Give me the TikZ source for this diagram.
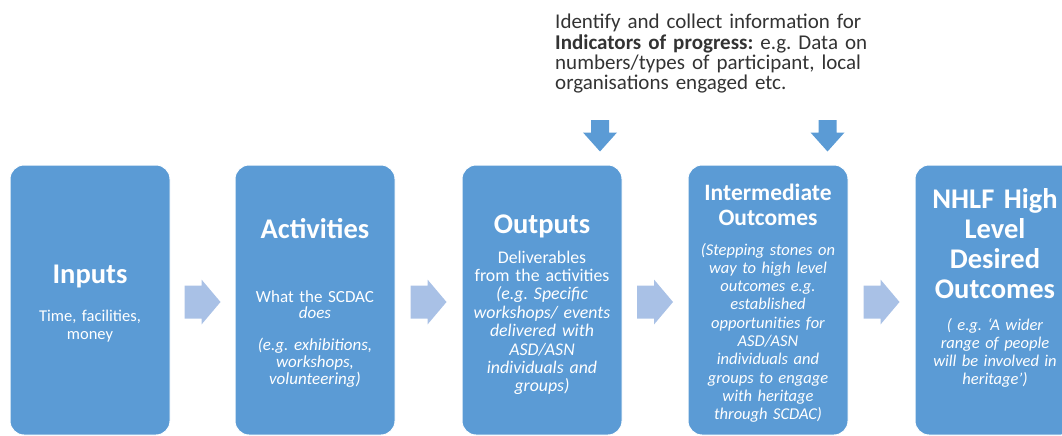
\documentclass[tikz,border=0pt]{standalone}
\usepackage{fontspec}
\setmainfont{Carlito}
\usetikzlibrary{calc}
\definecolor{boxblue}{HTML}{5B9BD5}
\definecolor{flowarrow}{HTML}{A9C1E6}
\definecolor{notegray}{HTML}{333333}
\frenchspacing

\begin{document}
\begin{tikzpicture}[x=1pt,y=-1pt,
  stage/.style={draw=white, line width=1pt, fill=boxblue, rounded corners=14pt,
    minimum width=160pt, minimum height=270pt, inner sep=0pt},
  headtext/.style={text=white, font=\fontsize{28.5}{30}\selectfont\bfseries,
    text width=158pt, align=center, inner sep=0pt, anchor=base},
  bodytext/.style={text=white, font=\fontsize{16.5}{18.3}\selectfont,
    text width=152pt, align=center, inner sep=0pt, anchor=base},
  note/.style={text=notegray, font=\fontsize{21}{20.3}\selectfont,
    text width=330pt, align=left, inner sep=0pt, anchor=base west},
  pics/flowblock/.style={code={
    \fill[flowarrow] (-18,-16.5) -- (-1,-16.5) -- (-1,-22.5) -- (18,0)
      -- (-1,22.5) -- (-1,16.5) -- (-18,16.5) -- cycle;}},
  pics/dropblock/.style={code={
    \fill[boxblue] (-9,-15.5) -- (9,-15.5) -- (9,-3) -- (17,-3) -- (0,16)
      -- (-17,-3) -- (-9,-3) -- cycle;}}]

\useasboundingbox (0,0) rectangle (1062,436);
\clip (0,0) rectangle (1062,436);

% the five stages of the logic model
\node[stage] (inputs)     at (90,300)  {};
\node[stage] (activities) at (315,300) {};
\node[stage] (outputs)    at (542,300) {};
\node[stage] (interm)     at (768,300) {};
\node[stage] (nhlf)       at (995,300) {};

% block arrows between the stages
\coordinate (f1) at ($(inputs.east)!0.5!(activities.west)+(0,2)$);
\coordinate (f2) at ($(activities.east)!0.5!(outputs.west)+(0,2)$);
\coordinate (f3) at ($(outputs.east)!0.5!(interm.west)+(0,2)$);
\coordinate (f4) at ($(interm.east)!0.5!(nhlf.west)+(0,2)$);
\pic at (f1) {flowblock};
\pic at (f2) {flowblock};
\pic at (f3) {flowblock};
\pic at (f4) {flowblock};

% indicators note with its two pointers
\node[note] (indicators) at (555,29) {Identify and collect information for\\
  \textbf{Indicators of progress:} e.g. Data on\\
  numbers/types of participant, local\\
  organisations engaged etc.};
\coordinate (d1) at ($(outputs.north)+(58,-29)$);
\coordinate (d2) at ($(interm.north)+(59.5,-29)$);
\pic at (d1) {dropblock};
\pic at (d2) {dropblock};

% Inputs
\node[headtext] (inputs-title) at (inputs.center |- 0,283) {Inputs};
\node[bodytext, font=\fontsize{16.5}{18}\selectfont] (inputs-body) at (inputs.center |- 0,321)
  {Time, facilities,\\ money};

% Activities
\node[headtext] (act-title) at (activities.center |- 0,238) {Activities};
\node[bodytext, font=\fontsize{17}{16.8}\selectfont] (act-body) at (activities.center |- 0,302)
  {What the SCDAC\\ \textit{does}\\[15pt]
   \textit{(e.g. exhibitions,}\\ \textit{workshops,}\\ \textit{volunteering)}};

% Outputs
\node[headtext] (out-title) at (outputs.center |- 0,233) {Outputs};
\node[bodytext, font=\fontsize{17.8}{18.4}\selectfont] (out-body) at (outputs.center |- 0,263)
  {Deliverables\\ from the activities\\ \textit{(e.g. Specific}\\
   \textit{workshops/ events}\\ \textit{delivered with}\\ \textit{ASD/ASN}\\
   \textit{individuals and}\\ \textit{groups)}};

% Intermediate outcomes
\node[headtext, font=\fontsize{23.5}{25}\selectfont\bfseries] (mid-title) at (interm.center |- 0,200)
  {Intermediate\\ Outcomes};
\node[bodytext, font=\fontsize{16.5}{18.3}\selectfont\itshape] (mid-body) at (interm.center |- 0,255)
  {(Stepping stones on\\ way to high level\\ outcomes e.g.\\ established\\
   opportunities for\\ ASD/ASN\\ individuals and\\ groups to engage\\
   with heritage\\ through SCDAC)};

% NHLF high level outcomes
\node[headtext] (nhlf-title) at (nhlf.center |- 0,208)
  {NHLF High\\ Level\\ Desired\\ Outcomes};
\node[bodytext, font=\fontsize{16.5}{18.3}\selectfont\itshape] (nhlf-body) at (nhlf.center |- 0,330)
  {( e.g. ‘A wider\\ range of people\\ will be involved in\\ heritage’)};
\end{tikzpicture}
\end{document}
